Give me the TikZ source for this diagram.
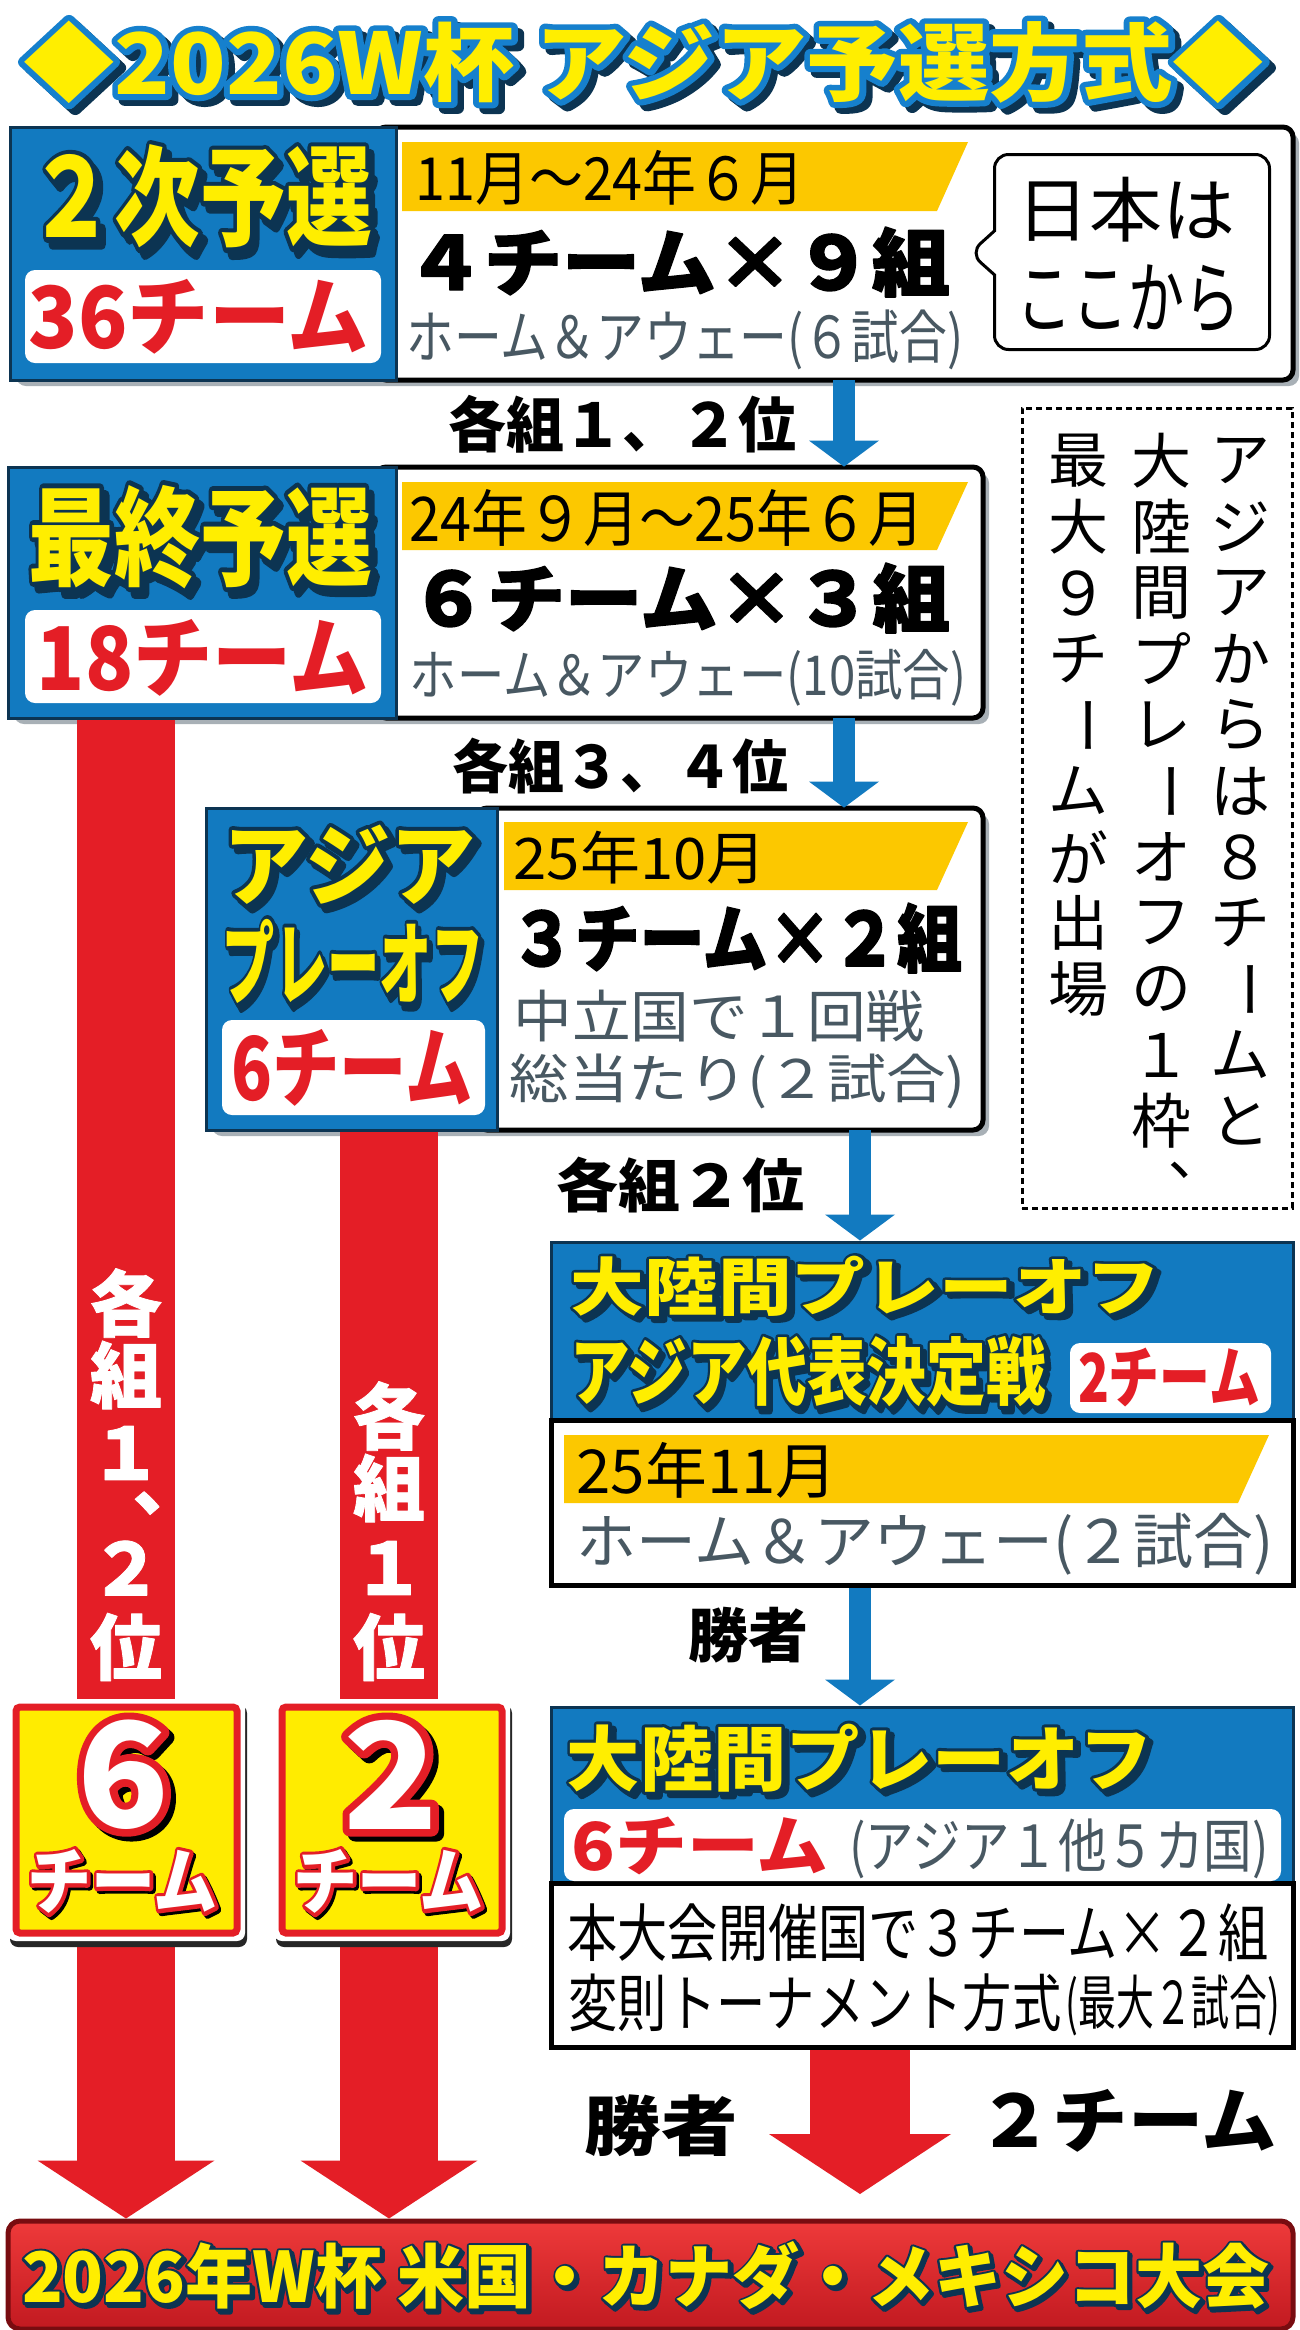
\documentclass[tikz,border=0pt]{standalone}
\usepackage{fontspec}
\setmainfont{Noto Sans CJK JP}
\usepackage{graphicx}
\usetikzlibrary{arrows.meta,fit,shapes.callouts,shadows}

\definecolor{stageblue}{RGB}{18,122,192}
\definecolor{titleblue}{RGB}{22,128,205}
\definecolor{navy}{RGB}{12,52,82}
\definecolor{headyellow}{RGB}{255,238,0}
\definecolor{numyellow}{RGB}{255,236,0}
\definecolor{gold}{RGB}{252,200,0}
\definecolor{greytext}{RGB}{72,88,98}
\definecolor{redtone}{RGB}{228,30,38}
\definecolor{darkred}{RGB}{120,12,16}
\definecolor{lightred}{RGB}{238,58,58}
\definecolor{shadowgrey}{RGB}{168,176,182}

\newdimen\pxu \pxu=0.5pt
\newsavebox\olbox
\newcommand\fitto[3]{\resizebox*{#1\pxu}{#2\pxu}{#3}}
\newcommand\strokeglyphs[1]{\special{pdf:literal direct 2 Tr 1 j 1 J \olw\space w}#1\special{pdf:literal direct 0 Tr}}
\newcommand\heavy[2][0.2]{{\def\olw{#1}\strokeglyphs{#2}}}
% layer 0 = drop, 1 = outline, 2 = fill
\newcommand\olbody[2]{\begingroup\sbox\olbox{#2}\pgfmathsetmacro\olw{2*\oltr}%
  \raisebox{0pt}[\dimexpr\ht\olbox+\oltr\relax][\dimexpr\dp\olbox+\oltr+\oltd\relax]{\kern\oltr
  \ifcase#1 \rlap{\kern\oltd\raisebox{-\oltd}{\strokeglyphs{\usebox\olbox}}}%
  \or \rlap{\strokeglyphs{\usebox\olbox}}%
  \or \rlap{\usebox\olbox}\fi
  \phantom{\usebox\olbox}\kern\oltr\kern\oltd}\endgroup}
\newcommand\headfont{\bfseries\fontsize{40}{40}\selectfont}
\newcommand\bignumfont{\bfseries\fontsize{60}{60}\selectfont}
\def\oltsettitle{\def\oltfont{\bfseries\fontsize{44}{44}\selectfont}\def\oltr{3pt}\def\oltd{3pt}%
  \def\oltout{titleblue}\def\oltdrop{navy}\def\oltfill{headyellow}}
\def\oltsetstage{\def\oltfont{\headfont}\def\oltr{1.8pt}\def\oltd{2.5pt}%
  \def\oltout{navy}\def\oltdrop{navy}\def\oltfill{headyellow}}
\def\oltsetwc{\def\oltfont{\headfont}\def\oltr{1.5pt}\def\oltd{1.5pt}%
  \def\oltout{navy}\def\oltdrop{navy}\def\oltfill{headyellow}}
\def\oltsetnum{\def\oltfont{\bignumfont}\def\oltr{3pt}\def\oltd{2pt}%
  \def\oltout{redtone}\def\oltdrop{black}\def\oltfill{white}}
\def\oltsetunit{\def\oltfont{\headfont}\def\oltr{2pt}\def\oltd{1.5pt}%
  \def\oltout{redtone}\def\oltdrop{black}\def\oltfill{white}}
% scheme, name, position, width, height, text
\newcommand\oltnode[6]{\csname oltset#1\endcsname
  \node[txt, text=\oltdrop] (#2-drop) at #3 {\fitto{#4}{#5}{\oltfont\olbody{0}{#6}}};
  \node[txt, text=\oltout] (#2-line) at #3 {\fitto{#4}{#5}{\oltfont\olbody{1}{#6}}};
  \node[txt, text=\oltfill] (#2) at #3 {\fitto{#4}{#5}{\oltfont\olbody{2}{#6}}};}
\newcommand\tatebar{\rotatebox[origin=c]{-90}{ー}}

\tikzset{
  txt/.style={inner sep=0pt, outer sep=0pt},
  boxframe/.style={inner sep=0pt, fill=white, rounded corners=5pt,
    drop shadow={shadow xshift=3pt, shadow yshift=-3pt, fill=shadowgrey, opacity=1}},
  stage/.style={inner sep=0pt, fill=stageblue, draw=navy, line width=1.5pt},
  info/.style={inner sep=0pt, fill=white, draw=black, line width=2.5pt, rounded corners=5pt},
  infoflat/.style={info, sharp corners},
  tagbox/.style={inner sep=0pt, fill=white, rounded corners=5pt},
  notebox/.style={inner sep=0pt, draw=black, line width=1.5pt, dash pattern=on 3pt off 2pt},
  tate/.style={txt, font=\fontsize{30}{30}\selectfont},
  bartxt/.style={txt, text=white, font=\bfseries\fontsize{36}{36}\selectfont},
  numout/.style={inner sep=0pt, fill=white, rounded corners=4pt,
    drop shadow={shadow xshift=1pt, shadow yshift=-3pt, fill=black!85, opacity=1}},
  numin/.style={inner sep=0pt, fill=numyellow, draw=redtone, line width=3.5pt, rounded corners=2pt},
  wcbar/.style={inner sep=0pt, top color=lightred, bottom color=redtone!85!black,
    draw=darkred, line width=2.5pt, rounded corners=6pt},
  bluearrow/.style={draw=stageblue, line width=11pt, -{Triangle[width=35pt, length=13pt, line width=0pt]}},
  redarrow/.style={draw=redtone, line width=49pt, -{Triangle[width=88.5pt, length=29pt, line width=0pt]}},
  winarrow/.style={draw=redtone, line width=50pt, -{Triangle[width=91pt, length=30pt, line width=0pt]}},
}

\begin{document}
\begin{tikzpicture}[x=0.5pt, y=-0.5pt]
    \path[use as bounding box, fill=white] (0,0) rectangle (1300,2330);
    \coordinate (lane1) at (126,0);
    \coordinate (lane2) at (389,0);
    \coordinate (upaxis) at (844,0);
    \coordinate (lowaxis) at (860,0);
    \coordinate (winner) at (860,2194);

    % Title
    \oltnode{title}{title}{(647,65)}{1260}{100}{◆2026W杯 アジア予選方式◆}

    % 2nd round
    \node[boxframe, fit={(10,127) (1293,380)}] (q1) {};
    \node[info, fit={(376,127) (1293,380)}] (q1i) {};
    \node[stage, fit={(10,127) (396,380)}] (q1s) {};
    \fill[gold] (402,142) -- (968,142) -- (937,211) -- (402,211) -- cycle;
    \oltnode{stage}{q1name}{(203,200)}{356}{120}{２次予選}
    \node[tagbox, fit={(25,270) (381,363)}] (q1tag) {};
    \node[txt, text=redtone] (q1teams) at (199,317) {\fitto{340}{75}{\bfseries 36チーム}};
    \node[txt] (q1date) at (610,178) {\fitto{389}{55}{11月〜24年６月}};
    \node[txt] (q1groups) at (678,262) {\fitto{544}{70}{\bfseries\heavy{４チーム×９組}}};
    \node[txt, text=greytext] (q1games) at (685,340) {\fitto{557}{60}{ホーム＆アウェー(６試合)}};
    \node[rectangle callout, draw=black, fill=white, line width=1.5pt, rounded corners=7pt,
          inner sep=0pt, minimum width=137.5pt, minimum height=97.5pt,
          callout absolute pointer={(970,253)}, callout pointer width=22pt] (jpnote) at (1132,252) {};
    \node[txt] (jp1) at (1126,210) {\fitto{219}{65}{日本は}};
    \node[txt] (jp2) at (1128,299) {\fitto{224}{68}{ここから}};

    % final round
    \node[boxframe, fit={(8,467) (983,718)}] (q2) {};
    \node[info, fit={(376,467) (983,718)}] (q2i) {};
    \node[stage, fit={(8,467) (396,718)}] (q2s) {};
    \fill[gold] (402,482) -- (968,482) -- (937,550) -- (402,550) -- cycle;
    \oltnode{stage}{q2name}{(203,540)}{356}{120}{最終予選}
    \node[tagbox, fit={(25,610) (381,703)}] (q2tag) {};
    \node[txt, text=redtone] (q2teams) at (203,658) {\fitto{332}{77}{\bfseries 18チーム}};
    \node[txt] (q2date) at (667,518) {\fitto{515}{57}{24年９月〜25年６月}};
    \node[txt] (q2groups) at (680,598) {\fitto{540}{70}{\bfseries\heavy{６チーム×３組}}};
    \node[txt, text=greytext] (q2games) at (688,678) {\fitto{556}{57}{ホーム＆アウェー(10試合)}};

    % Asian play-off
    \node[boxframe, fit={(206,808) (983,1130)}] (q3) {};
    \node[info, fit={(477,808) (983,1130)}] (q3i) {};
    \node[stage, fit={(206,808) (497,1130)}] (q3s) {};
    \fill[gold] (504,822) -- (968,822) -- (937,890) -- (504,890) -- cycle;
    \oltnode{stage}{q3name1}{(352,867)}{265}{93}{アジア}
    \oltnode{stage}{q3name2}{(355,964)}{269}{98}{プレーオフ}
    \node[tagbox, fit={(222,1020) (485,1115)}] (q3tag) {};
    \node[txt, text=redtone] (q3teams) at (352,1068) {\fitto{241}{77}{\bfseries 6チーム}};
    \node[txt] (q3date) at (640,858) {\fitto{253}{53}{25年10月}};
    \node[txt] (q3groups) at (736,938) {\fitto{452}{70}{\bfseries\heavy{３チーム×２組}}};
    \node[txt, text=greytext] (q3way) at (719,1016) {\fitto{411}{52}{中立国で１回戦}};
    \node[txt, text=greytext] (q3games) at (738,1081) {\fitto{456}{55}{総当たり(２試合)}};

    % note
    \node[notebox, fit={(1022,408) (1292,1208)}] (note) {};
    \foreach \ch [count=\i] in {ア,ジ,ア,か,ら,は,８,チ,\tatebar,ム,と}
        \node[tate] (na\i) at (1240,{461+66*(\i-1)}) {\ch};
    \foreach \ch [count=\i] in {大,陸,間,プ,レ,\tatebar,オ,フ,の,１,枠,︑}
        \node[tate] (nb\i) at (1161,{461+66*(\i-1)}) {\ch};
    \foreach \ch [count=\i] in {最,大,９,チ,\tatebar,ム,が,出,場}
        \node[tate] (nc\i) at (1078,{461+66*(\i-1)}) {\ch};

    % Asian decider
    \node[stage, fit={(551,1242) (1293,1420)}] (q4s) {};
    \node[infoflat, fit={(551,1420) (1293,1585)}] (q4i) {};
    \oltnode{stage}{q4name1}{(868,1288)}{601}{70}{大陸間プレーオフ}
    \oltnode{stage}{q4name2}{(810,1374)}{485}{82}{アジア代表決定戦}
    \node[tagbox, fit={(1070,1343) (1271,1413)}] (q4tag) {};
    \node[txt, text=redtone] (q4teams) at (1169,1377) {\fitto{182}{59}{\bfseries 2チーム}};
    \fill[gold] (564,1435) -- (1269,1435) -- (1238,1503) -- (564,1503) -- cycle;
    \node[txt] (q4date) at (707,1470) {\fitto{261}{56}{25年11月}};
    \node[txt, text=greytext] (q4games) at (925,1544) {\fitto{697}{62}{ホーム＆アウェー(２試合)}};

    % intercontinental play-off
    \node[stage, fit={(551,1707) (1293,1883)}] (q5s) {};
    \node[infoflat, fit={(551,1883) (1293,2047)}] (q5i) {};
    \oltnode{stage}{q5name}{(862,1760)}{597}{79}{大陸間プレーオフ}
    \node[tagbox, fit={(564,1809) (1281,1881)}] (q5tag) {};
    \node[txt, text=redtone] (q5teams) at (700,1846) {\fitto{257}{58}{\bfseries 6チーム}};
    \node[txt, text=greytext] (q5from) at (1059,1849) {\fitto{419}{60}{(アジア１他５カ国)}};
    \node[txt] (q5line1) at (918,1933) {\fitto{701}{58}{本大会開催国で３チーム×２組}};
    \node[txt] (q5line2) at (815,2003) {\fitto{493}{58}{変則トーナメント方式}};
    \node[txt] (q5max) at (1173,2006) {\fitto{215}{61}{(最大２試合)}};

    % World Cup bar
    \node[wcbar, fit={(8,2221) (1293,2329)}] (wc) {};
    \oltnode{wc}{wctext}{(647,2277)}{1255}{76}{2026年W杯 米国・カナダ・メキシコ大会}

    % arrows
    \draw[bluearrow] (q1.south -| upaxis) -- (q2.north -| upaxis);
    \draw[bluearrow] (q2.south -| upaxis) -- (q3.north -| upaxis);
    \draw[bluearrow] (q3.south -| lowaxis) -- (q4s.north -| lowaxis);
    \draw[bluearrow] (q4i.south -| lowaxis) -- (q5s.north -| lowaxis);
    \draw[redarrow] (q2s.south -| lane1) -- (wc.north -| lane1);
    \draw[redarrow] (q3s.south -| lane2) -- (wc.north -| lane2);
    \draw[winarrow] (q5i.south -| lowaxis) -- (winner);

    \node[txt] (lbl1) at (622,424) {\fitto{348}{58}{\bfseries 各組１、２位}};
    \node[txt] (lbl2) at (620,766) {\fitto{336}{56}{\bfseries 各組３、４位}};
    \node[txt] (lbl3) at (680,1185) {\fitto{248}{56}{\bfseries 各組２位}};
    \node[txt] (lbl4) at (748,1635) {\fitto{120}{56}{\bfseries 勝者}};
    \node[txt] (lbl5) at (661,2126) {\fitto{153}{62}{\bfseries 勝者}};
    \node[txt] (lbl6) at (1127,2121) {\fitto{299}{63}{\bfseries ２チーム}};

    \foreach \y/\ch [count=\i] in {1303/各,1375/組,1453/１,1522/︑,1568/２,1647/位}
        \node[bartxt] (ra\i) at (126,\y) {\heavy[0.4]{\ch}};
    \foreach \y/\ch [count=\i] in {1416/各,1488/組,1568/１,1647/位}
        \node[bartxt] (rb\i) at (389,\y) {\heavy[0.4]{\ch}};

    % direct places
    \node[numout, fit={(8,1699) (245,1941)}] (n6) {};
    \node[numin, fit={(16,1707) (237,1933)}] (n6in) {};
    \oltnode{num}{n6num}{(126,1777)}{112}{129}{6}
    \oltnode{unit}{n6unit}{(124,1883)}{199}{74}{チーム}
    \node[numout, fit={(274,1699) (510,1941)}] (n2) {};
    \node[numin, fit={(282,1707) (502,1933)}] (n2in) {};
    \oltnode{num}{n2num}{(394,1777)}{116}{129}{2}
    \oltnode{unit}{n2unit}{(390,1883)}{199}{74}{チーム}
\end{tikzpicture}
\end{document}
